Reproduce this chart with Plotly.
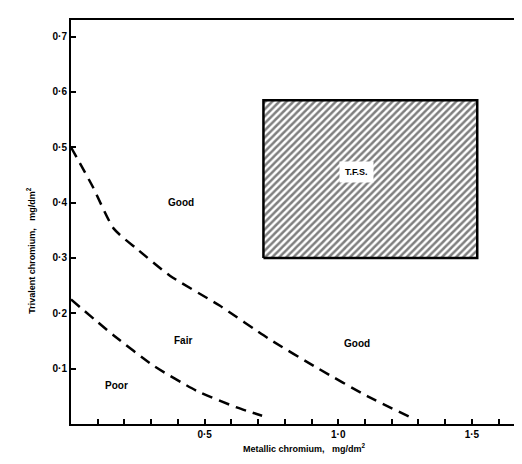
import plotly.graph_objects as go

# Boundary curves
upper_x = [0.0, 0.08, 0.16, 0.25, 0.37, 0.556, 0.74, 0.926, 1.11, 1.28]
upper_y = [0.50, 0.43, 0.353, 0.315, 0.268, 0.214, 0.154, 0.100, 0.050, 0.010]
lower_x = [0.0, 0.16, 0.31, 0.47, 0.62, 0.715]
lower_y = [0.225, 0.16, 0.105, 0.06, 0.03, 0.015]

# T.F.S. region
tfs_x = [0.72, 1.52, 1.52, 0.72, 0.72]
tfs_y = [0.30, 0.30, 0.585, 0.585, 0.30]

# Region labels
label_text = ["Good", "Fair", "Good", "Poor"]
label_x = [0.41, 0.42, 1.07, 0.17]
label_y = [0.40, 0.15, 0.145, 0.07]

x_ticks = [0.5, 1.0, 1.5]
x_ticktext = ["0·5", "1·0", "1·5"]
y_ticks = [0.1, 0.2, 0.3, 0.4, 0.5, 0.6, 0.7]
y_ticktext = ["0·1", "0·2", "0·3", "0·4", "0·5", "0·6", "0·7"]

FONT = "Liberation Sans"

fig = go.Figure()

fig.add_trace(go.Scatter(
    x=tfs_x, y=tfs_y, mode="lines", fill="toself",
    fillcolor="white",
    fillpattern=dict(shape="/", fgcolor="black", bgcolor="white", size=5, solidity=0.5),
    line=dict(color="black", width=2.5), hoverinfo="skip", showlegend=False))

fig.add_trace(go.Scatter(
    x=upper_x, y=upper_y, mode="lines", line=dict(color="black", width=2.5, dash="11px,7px", shape="spline", smoothing=0.6),
    showlegend=False))
fig.add_trace(go.Scatter(
    x=lower_x, y=lower_y, mode="lines", line=dict(color="black", width=2.5, dash="11px,7px", shape="spline", smoothing=0.6),
    showlegend=False))

for t, lx, ly in zip(label_text, label_x, label_y):
    fig.add_annotation(x=lx, y=ly, text="<b>%s</b>" % t, showarrow=False,
                       font=dict(family=FONT, size=10, color="black"))

fig.add_annotation(x=1.07, y=0.455, text="<b>T.F.S.</b>", showarrow=False,
                   font=dict(family=FONT, size=9, color="black"),
                   bgcolor="white", borderpad=5)

fig.add_annotation(xref="paper", yref="paper", x=0.52, y=-0.079,
                   text="<b>Metallic chromium,   mg/dm<sup>2</sup></b>", showarrow=False,
                   font=dict(family=FONT, size=9, color="black"))
fig.add_annotation(xref="paper", yref="paper", x=-0.106, y=0.43, textangle=-90,
                   text="<b>Trivalent chromium,   mg/dm<sup>2</sup></b>", showarrow=False,
                   font=dict(family=FONT, size=9, color="black"))

fig.update_xaxes(range=[0, 1.68], tickvals=x_ticks, ticktext=["<b>%s</b>" % t for t in x_ticktext],
                 ticks="inside", ticklen=5, tickwidth=1.5, tickcolor="black",
                 minor=dict(ticks="inside", dtick=0.1, tick0=0, ticklen=5, tickwidth=1.5, tickcolor="black", showgrid=False),
                 showline=True, linecolor="black",
                 linewidth=2, mirror=True, showgrid=False, zeroline=False,
                 tickfont=dict(family=FONT, size=10, color="black"))
fig.update_yaxes(range=[0, 0.73], tickvals=y_ticks, ticktext=["<b>%s</b>" % t for t in y_ticktext],
                 ticks="inside", ticklen=5, tickwidth=1.5, tickcolor="black", showline=True, linecolor="black",
                 linewidth=2, mirror=True, showgrid=False, zeroline=False,
                 tickfont=dict(family=FONT, size=10, color="black"))

fig.update_layout(width=522, height=464, margin=dict(l=63, r=8, t=12, b=48),
                  plot_bgcolor="white", paper_bgcolor="white")

fig.write_html("out.html")
